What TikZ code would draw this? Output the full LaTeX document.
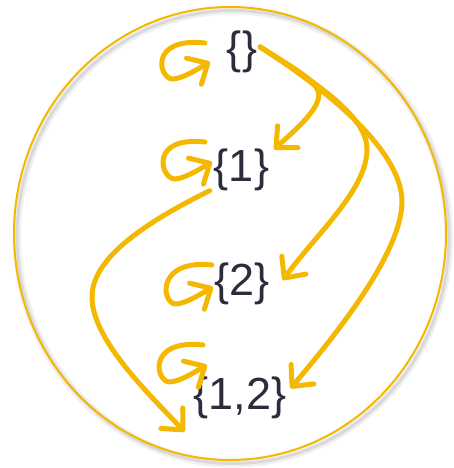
\documentclass[tikz,border=0pt]{standalone}
\usepackage{fontspec}
\setmainfont{Liberation Sans}
\usetikzlibrary{arrows.meta}
\definecolor{gold}{HTML}{F5B800}
\definecolor{ink}{HTML}{2B2D3A}

\begin{document}
\begin{tikzpicture}[x=1pt, y=-1pt,
    set/.style={inner sep=0pt, text=ink, font=\fontsize{45}{54}\selectfont},
    flow/.style={draw=gold, line width=5pt, line cap=round, line join=round,
      -{Straight Barb[length=16pt, width=30pt, round]}}]
    \useasboundingbox (0,0) rectangle (454,468);

    % Outline with shadow
    \draw[gray!12, line width=8pt] (233,237) ellipse (216pt and 226.5pt);
    \draw[gray!30, line width=3pt] (233,237) ellipse (216pt and 226.5pt);
    \draw[gold, line width=2pt] (230,233.5) ellipse (216pt and 226.5pt);

    % Subsets
    \node[set] (e) at (242,52) {\{\}};
    \node[set] (s1) at (241.5,169.5) {\{1\}};
    \node[set] (s2) at (242,283.5) {\{2\}};
    \node[set] (s12) at (240,397.5) {\{1,2\}};

    % Self loops
    \foreach \n/\sx/\sy/\tx/\ty in {e/-37/-9/-32/10, s1/-36.5/-27.5/-29.5/-7.5,
        s2/-30/-18.5/-29/3.5, s12/-37/-52.5/-33/-32.5}
      \draw[flow] ([shift={(\sx,\sy)}]\n.center) .. controls +(-55,-6) and +(-14,-2) ..
        ([shift={(\tx-38,\ty+17)}]\n.center) .. controls +(10,0) and +(-14,8) ..
        ([shift={(\tx,\ty)}]\n.center);

    % From the empty set
    \draw[flow] ([shift={(3,-5)}]e.east) .. controls (305,75) and (323,85) .. (318,100)
      .. controls (313,115) and (295,130) .. ([shift={(5,1)}]s1.north east);
    \draw[flow] ([shift={(3,-5)}]e.east) .. controls (320,85) and (368,118) .. (367,150)
      .. controls (366,190) and (320,230) .. ([shift={(13,-3.5)}]s2.east);
    \draw[flow] ([shift={(3,-5)}]e.east) .. controls (330,92) and (400,150) .. (402,200)
      .. controls (403,250) and (340,330) .. ([shift={(4,12)}]s12.north east);

    % From {1}
    \draw[flow] ([xshift=-4]s1.south west) .. controls (140,225) and (92,260) .. (92,297)
      .. controls (92,340) and (150,395) .. ([shift={(-9,13)}]s12.south west);
\end{tikzpicture}
\end{document}
